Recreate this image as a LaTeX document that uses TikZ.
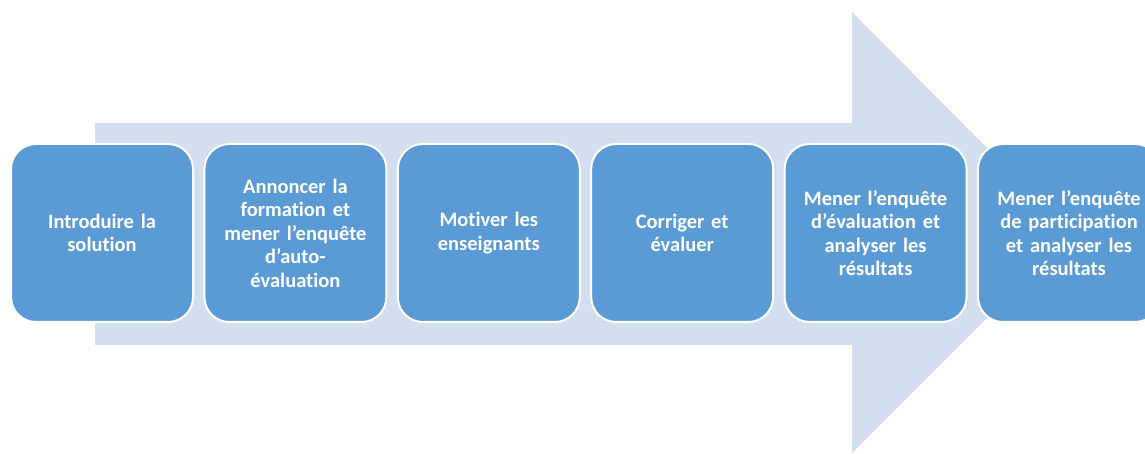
\documentclass[tikz,border=0pt]{standalone}
\usepackage{fontspec}
\setmainfont{Carlito}[Ligatures={NoCommon}]
\usetikzlibrary{positioning}

\definecolor{stageblue}{HTML}{5B9BD5}
\definecolor{arrowback}{HTML}{D3DEEF}

\begin{document}
\begin{tikzpicture}[
		x=1pt, y=1pt,
		stage/.style={draw=white, line width=2pt, fill=stageblue, rounded corners=25pt,
			minimum width=182pt, minimum height=178pt, inner sep=4pt,
			text=white, font=\bfseries\fontsize{20.5}{23.5}\selectfont, align=center, text width=170pt},
		big arrow/.style={fill=arrowback, draw=none}
		]
		\useasboundingbox (0,0) rectangle (1145,454);

		% =========================================================
		% Background arrow
		% =========================================================
		\fill[big arrow] (95,109) -- (852,109) -- (852,1) -- (1072,221)
			-- (852,442) -- (852,331) -- (95,331) -- cycle;

		% =========================================================
		% Stages
		% =========================================================
		\node[stage] (intro) at (102,221) {Introduire la\\solution};
		\node[stage, right=9.4pt of intro] (announce) {Annoncer la\\formation et\\mener l’enquête\\d’auto-\\évaluation};
		\node[stage, right=9.4pt of announce] (motivate) {Motiver les\\enseignants};
		\node[stage, right=9.4pt of motivate] (correct) {Corriger et\\évaluer};
		\node[stage, right=9.4pt of correct] (evalsurvey) {Mener l’enquête\\d’évaluation et\\analyser les\\résultats};
		\node[stage, right=9.4pt of evalsurvey] (partsurvey) {Mener l’enquête\\de participation\\et analyser les\\résultats};

	\end{tikzpicture}
\end{document}
